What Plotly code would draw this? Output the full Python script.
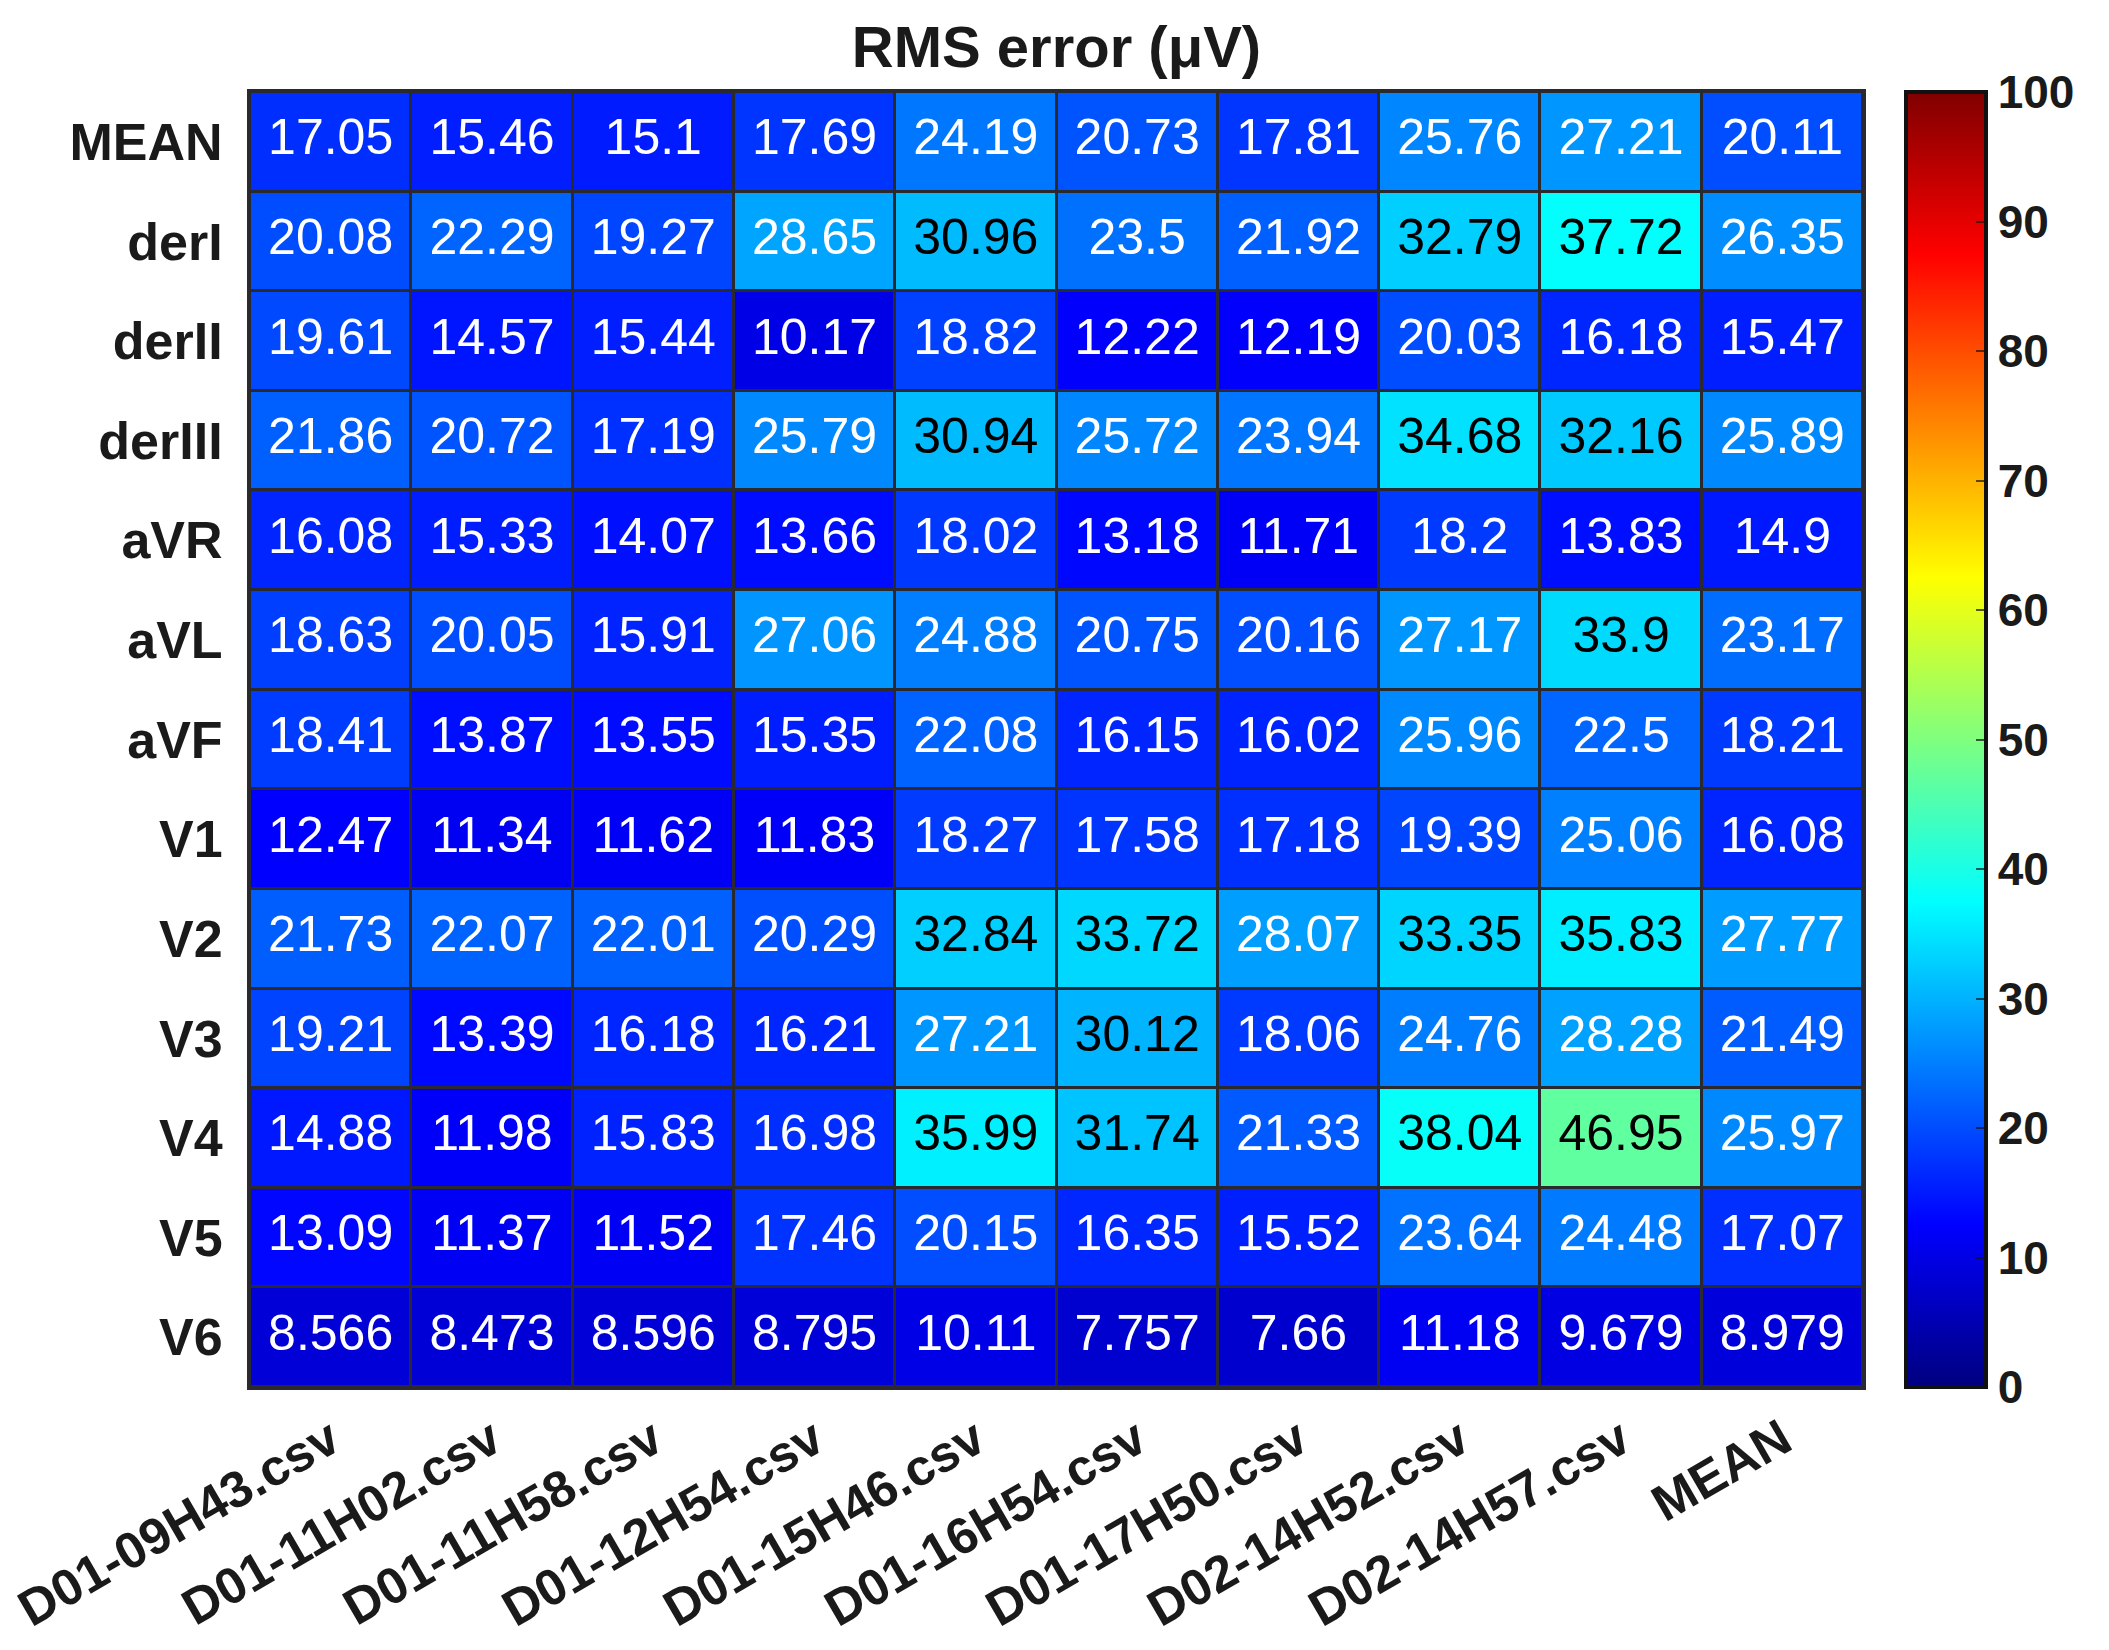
import plotly.graph_objects as go

files = ["D01-09H43.csv", "D01-11H02.csv", "D01-11H58.csv", "D01-12H54.csv",
         "D01-15H46.csv", "D01-16H54.csv", "D01-17H50.csv", "D02-14H52.csv",
         "D02-14H57.csv", "MEAN"]
leads = ["MEAN", "derI", "derII", "derIII", "aVR", "aVL", "aVF",
         "V1", "V2", "V3", "V4", "V5", "V6"]

row_mean   = [17.05, 15.46, 15.1, 17.69, 24.19, 20.73, 17.81, 25.76, 27.21, 20.11]
row_derI   = [20.08, 22.29, 19.27, 28.65, 30.96, 23.5, 21.92, 32.79, 37.72, 26.35]
row_derII  = [19.61, 14.57, 15.44, 10.17, 18.82, 12.22, 12.19, 20.03, 16.18, 15.47]
row_derIII = [21.86, 20.72, 17.19, 25.79, 30.94, 25.72, 23.94, 34.68, 32.16, 25.89]
row_aVR    = [16.08, 15.33, 14.07, 13.66, 18.02, 13.18, 11.71, 18.2, 13.83, 14.9]
row_aVL    = [18.63, 20.05, 15.91, 27.06, 24.88, 20.75, 20.16, 27.17, 33.9, 23.17]
row_aVF    = [18.41, 13.87, 13.55, 15.35, 22.08, 16.15, 16.02, 25.96, 22.5, 18.21]
row_V1     = [12.47, 11.34, 11.62, 11.83, 18.27, 17.58, 17.18, 19.39, 25.06, 16.08]
row_V2     = [21.73, 22.07, 22.01, 20.29, 32.84, 33.72, 28.07, 33.35, 35.83, 27.77]
row_V3     = [19.21, 13.39, 16.18, 16.21, 27.21, 30.12, 18.06, 24.76, 28.28, 21.49]
row_V4     = [14.88, 11.98, 15.83, 16.98, 35.99, 31.74, 21.33, 38.04, 46.95, 25.97]
row_V5     = [13.09, 11.37, 11.52, 17.46, 20.15, 16.35, 15.52, 23.64, 24.48, 17.07]
row_V6     = [8.566, 8.473, 8.596, 8.795, 10.11, 7.757, 7.66, 11.18, 9.679, 8.979]

z = [row_mean, row_derI, row_derII, row_derIII, row_aVR, row_aVL, row_aVF,
     row_V1, row_V2, row_V3, row_V4, row_V5, row_V6]

cbar_ticks = [0, 10, 20, 30, 40, 50, 60, 70, 80, 90, 100]

jet = [[0.0, "rgb(0,0,128)"], [0.125, "rgb(0,0,255)"], [0.375, "rgb(0,255,255)"],
       [0.625, "rgb(255,255,0)"], [0.875, "rgb(255,0,0)"], [1.0, "rgb(128,0,0)"]]

FONT = "Liberation Sans, Arial, sans-serif"
DARK = "#2a2a2e"
# page body has an 8px margin; figure coordinates are page coordinates minus 8
W, H = 2093, 1634
L, T = 242, 84
R = W - 1855
B = H - 1379
PW = W - L - R

fig = go.Figure()
fig.add_trace(go.Heatmap(
    z=z, x=files, y=leads, colorscale=jet, zmin=0, zmax=100,
    xgap=3, ygap=3, hoverinfo="skip",
    colorbar=dict(
        x=(1898 - L) / PW, xanchor="left", y=0.5, yanchor="middle", len=1, lenmode="fraction",
        thickness=80, thicknessmode="pixels", xpad=0, ypad=0,
        outlinecolor="#111111", outlinewidth=4,
        tickvals=cbar_ticks, ticktext=[str(t) for t in cbar_ticks],
        ticks="inside", ticklen=12, tickwidth=2, tickcolor="rgba(20,20,20,0.7)",
        tickfont=dict(family=FONT, size=46, color="#1a1a1a", weight="bold"),
    ),
))

tx, ty, tt, tc = [], [], [], []
for r, lead in enumerate(leads):
    for c, f in enumerate(files):
        v = z[r][c]
        tx.append(f)
        ty.append(lead)
        tt.append(format(v, ".4g"))
        tc.append("#000000" if v >= 30 else "#ffffff")

fig.add_trace(go.Scatter(
    x=tx, y=ty, text=tt, mode="text", textposition="middle center",
    textfont=dict(family=FONT, size=50, color=tc), hoverinfo="skip", showlegend=False,
))

fig.update_layout(
    width=W, height=H,
    margin=dict(l=L, r=R, t=T, b=B, autoexpand=False),
    paper_bgcolor="white", plot_bgcolor=DARK,
    title=dict(text="RMS error (μV)", x=(L + 1855) / 2 / W, xanchor="center",
               y=1 - 39 / H, yanchor="middle",
               font=dict(family=FONT, size=58, color="#1a1a1a", weight="bold")),
    showlegend=False,
)
fig.update_xaxes(
    type="category", tickangle=-30, showgrid=False, zeroline=False, automargin=False,
    showline=True, mirror=True, linecolor=DARK, linewidth=3, ticks="",
    tickfont=dict(family=FONT, size=51, color="#1a1a1a", weight="bold"),
    range=[-0.5, len(files) - 0.5], autorange=False,
)
fig.update_yaxes(
    type="category", showgrid=False, zeroline=False, automargin=False,
    showline=True, mirror=True, linecolor=DARK, linewidth=3, ticks="",
    ticklabelstandoff=14,
    tickfont=dict(family=FONT, size=52, color="#1a1a1a", weight="bold"),
    range=[len(leads) - 0.5, -0.5], autorange=False,
)

fig.write_html("out.html")
